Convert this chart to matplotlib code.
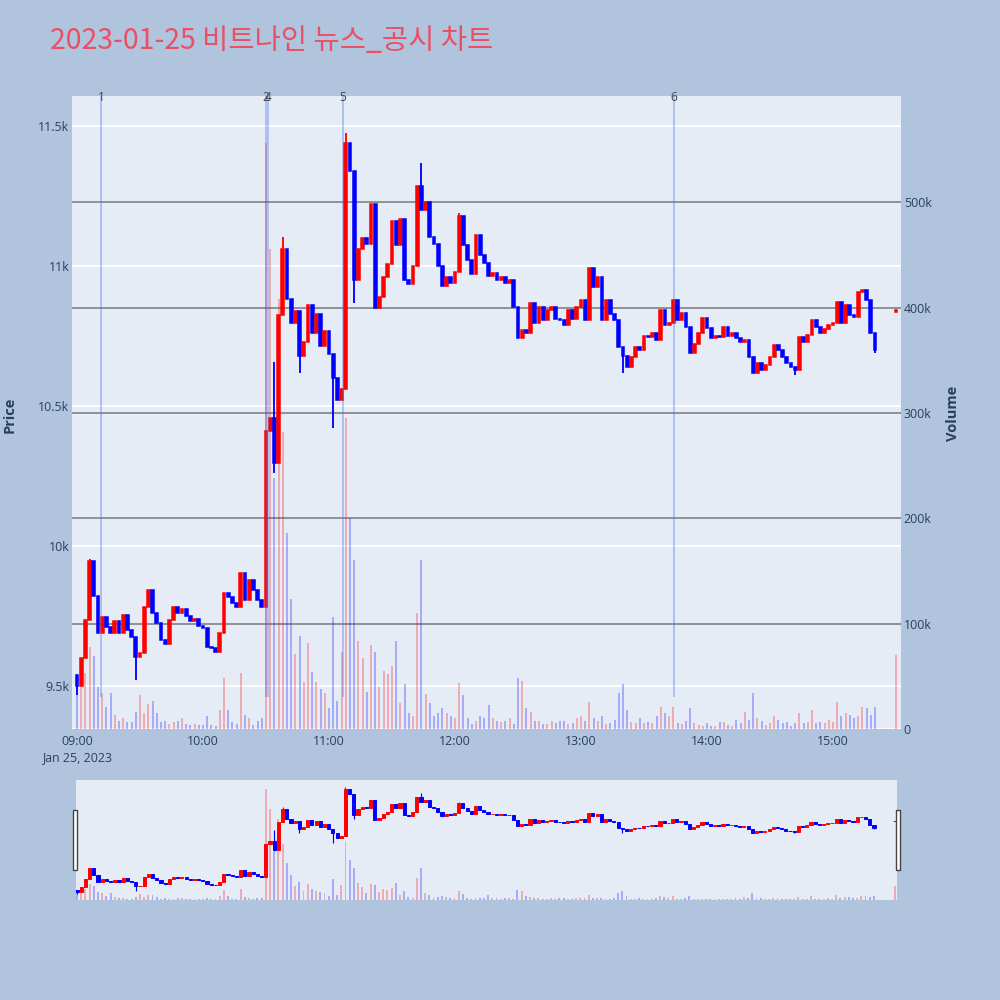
import matplotlib.pyplot as plt
import numpy as np
from matplotlib.transforms import blended_transform_factory
from matplotlib.patches import Rectangle

title = '2023-01-25 비트나인 뉴스_공시 차트'

# minutes after 09:00 (2-minute candles, plus the closing auction at 15:30)
bar_minutes = list(range(0, 381, 2)) + [390]

closes = [
    9500, 9600, 9735, 9945, 9820, 9690, 9745, 9712, 9688, 9730,
    9688, 9753, 9700, 9676, 9604, 9616, 9783, 9842, 9760, 9723,
    9664, 9650, 9735, 9783, 9760, 9775, 9750, 9730, 9740, 9715,
    9706, 9640, 9634, 9622, 9688, 9830, 9818, 9795, 9783, 9902,
    9807, 9878, 9842, 9807, 9780, 10410, 10456, 10296, 10825, 11060,
    10881, 10797, 10839, 10680, 10727, 10860, 10760, 10830, 10713, 10769,
    10686, 10600, 10520, 10560, 11440, 11340, 10950, 11060, 11100, 11080,
    11222, 10850, 10890, 10960, 11006, 11160, 11076, 11166, 10950, 10936,
    11000, 11284, 11200, 11230, 11103, 11080, 11000, 10930, 10960, 10940,
    10980, 11180, 11075, 11020, 10970, 11110, 11040, 11010, 10964, 10975,
    10950, 10960, 10940, 10950, 10853, 10741, 10770, 10760, 10866, 10795,
    10854, 10807, 10843, 10854, 10810, 10807, 10790, 10843, 10810, 10854,
    10878, 10807, 10991, 10926, 10960, 10807, 10878, 10830, 10807, 10712,
    10680, 10640, 10676, 10712, 10700, 10748, 10745, 10760, 10736, 10843,
    10790, 10795, 10878, 10807, 10831, 10783, 10690, 10720, 10759, 10813,
    10780, 10741, 10750, 10745, 10783, 10750, 10760, 10741, 10729, 10735,
    10676, 10616, 10652, 10628, 10645, 10676, 10718, 10700, 10676, 10652,
    10640, 10628, 10747, 10730, 10753, 10807, 10783, 10760, 10776, 10790,
    10795, 10872, 10795, 10860, 10826, 10819, 10908, 10914, 10880, 10760,
    10700, 10843,
]

# volume in thousands of shares
volumes_k = [
    43, 40, 53, 78, 69, 40, 34, 21, 34, 13,
    8, 10, 7, 7, 16, 32, 15, 24, 27, 15,
    7, 8, 5, 7, 8, 10, 5, 4, 5, 4,
    4, 12, 4, 3, 18, 48, 18, 7, 5, 53,
    13, 10, 4, 8, 10, 556, 456, 238, 408, 282,
    186, 123, 71, 88, 45, 82, 54, 45, 38, 34,
    20, 106, 27, 73, 295, 200, 160, 84, 67, 35,
    80, 73, 40, 55, 52, 60, 84, 25, 43, 15,
    12, 110, 160, 33, 25, 12, 15, 20, 15, 12,
    10, 44, 32, 10, 5, 8, 12, 10, 23, 10,
    8, 7, 8, 10, 5, 48, 46, 20, 16, 8,
    8, 5, 5, 8, 6, 8, 8, 5, 6, 10,
    12, 8, 26, 10, 8, 12, 5, 6, 9, 34,
    43, 18, 7, 6, 10, 6, 7, 6, 12, 21,
    15, 12, 21, 6, 5, 8, 20, 6, 4, 3,
    6, 3, 3, 7, 7, 4, 3, 9, 6, 16,
    9, 34, 10, 8, 4, 6, 12, 9, 6, 7,
    3, 6, 15, 6, 7, 18, 6, 7, 6, 9,
    7, 26, 12, 15, 13, 10, 12, 21, 20, 13,
    21, 70,
]

first_open = 9540
open_overrides = {390: 10835}
wick_high = {6: 9955, 94: 10658, 98: 11103, 128: 11475, 164: 11368, 182: 11190}
wick_low = {0: 9468, 28: 9521, 94: 10261, 106: 10616, 122: 10421, 132: 10866,
            260: 10616, 342: 10610, 380: 10690}

news_labels = ['1', '2', '4', '5', '6']
news_minutes = [11.4, 89.8, 91.0, 126.7, 284.4]

hour_ticks = [0, 60, 120, 180, 240, 300, 360]
hour_labels = ['09:00\nJan 25, 2023', '10:00', '11:00', '12:00', '13:00', '14:00', '15:00']
price_ticks = [9500, 10000, 10500, 11000, 11500]
price_labels = ['9.5k', '10k', '10.5k', '11k', '11.5k']
vol_ticks = [0, 100, 200, 300, 400, 500]
vol_labels = ['0', '100k', '200k', '300k', '400k', '500k']

UP = '#FF0000'
DOWN = '#0000FF'
TXT = '#2a3f5f'
PLOT_BG = '#E5ECF6'

x = np.array(bar_minutes, dtype=float)
c = np.array(closes, dtype=float)
o = np.concatenate([[first_open], c[:-1]])
for m, v in open_overrides.items():
    o[bar_minutes.index(m)] = v
hi = np.maximum(o, c)
lo = np.minimum(o, c)
for m, v in wick_high.items():
    hi[bar_minutes.index(m)] = v
for m, v in wick_low.items():
    lo[bar_minutes.index(m)] = v
vol = np.array(volumes_k, dtype=float) * 1000
colors = np.where(c >= o, UP, DOWN)

xlim = (-2.4, 392.4)
plim = (9346, 11607)
vlim = (0, 601000)


def draw(ax_v, ax_p, body_w, lw, vol_w):
    ax_v.bar(x, vol, width=vol_w, color=colors, alpha=0.27, linewidth=0, zorder=2)
    ax_p.vlines(x, lo, hi, colors=colors, linewidth=lw * 0.6, zorder=3)
    ax_p.bar(x, c - o, bottom=o, width=body_w, color=colors,
             edgecolor=colors, linewidth=lw * 0.5, zorder=4)


plt.rcParams['font.family'] = ['Open Sans', 'DejaVu Sans']
fig = plt.figure(figsize=(10, 10), dpi=100)
fig.patch.set_facecolor('#B0C4DE')

fig.text(0.05, 0.959, title, fontsize=20.5, color='#EB4F64', va='center', ha='left',
         family=['Noto Sans CJK KR', 'DejaVu Sans'])

# main chart: volume underneath, price on top
ax_v = fig.add_axes([0.072, 0.271, 0.829, 0.633])
ax_p = ax_v.twinx()
ax_v.set_facecolor(PLOT_BG)
ax_p.set_facecolor('none')
for a in (ax_v, ax_p):
    for s in a.spines.values():
        s.set_visible(False)
    a.set_xlim(*xlim)
ax_v.set_ylim(*vlim)
ax_p.set_ylim(*plim)

# grid: white for price, grey for volume
tr = blended_transform_factory(ax_v.transAxes, ax_p.transData)
for p in price_ticks:
    ax_v.plot([0, 1], [p, p], color='white', lw=1.3, transform=tr, zorder=1)
for v in vol_ticks[1:]:
    ax_v.axhline(v * 1000, color='#8a8a8a', lw=1.3, zorder=1)
ax_v.axhline(0, color='white', lw=2, zorder=1)

draw(ax_v, ax_p, 1.3, 2.2, 1.0)

# news markers
for lab, m in zip(news_labels, news_minutes):
    ax_p.vlines(m, 9460, plim[1], color='royalblue', alpha=0.4, lw=1.2, zorder=5)
    ax_p.text(m, 0.998, lab, transform=blended_transform_factory(ax_p.transData, ax_p.transAxes),
              ha='center', va='center', fontsize=8.6, color='#444444', zorder=6)

ax_p.yaxis.tick_left()
ax_v.yaxis.tick_right()
ax_p.set_yticks(price_ticks, price_labels)
ax_v.set_yticks([v * 1000 for v in vol_ticks], vol_labels)
ax_v.set_xticks(hour_ticks, hour_labels)
for a in (ax_v, ax_p):
    a.tick_params(length=0, labelsize=8.9, labelcolor=TXT)
ax_p.tick_params(axis='y', pad=2)
ax_v.tick_params(axis='y', pad=2)
ax_v.tick_params(axis='x', pad=4)
for lab in ax_v.get_xticklabels():
    lab.set_linespacing(1.4)

fig.text(0.010, 0.585, 'Price', rotation=90, ha='center', va='center',
         fontsize=10.5, fontweight='bold', color=TXT)
fig.text(0.953, 0.587, 'Volume', rotation=90, ha='center', va='center',
         fontsize=10.5, fontweight='bold', color=TXT)

# range slider
sv = fig.add_axes([0.076, 0.100, 0.821, 0.120])
sp = sv.twinx()
sv.set_facecolor(PLOT_BG)
sp.set_facecolor('none')
for a in (sv, sp):
    for s in a.spines.values():
        s.set_visible(False)
    a.set_xlim(-0.5, 391)
    a.set_xticks([])
    a.set_yticks([])
sv.set_ylim(*vlim)
sp.set_ylim(*plim)
draw(sv, sp, 1.5, 1.4, 0.9)

for hx in (0.073, 0.896):
    fig.patches.append(Rectangle((hx, 0.130), 0.004, 0.060, transform=fig.transFigure,
                                 facecolor='white', edgecolor='#444444', lw=1.0))

fig.savefig('out.png', dpi=100, facecolor=fig.get_facecolor())
